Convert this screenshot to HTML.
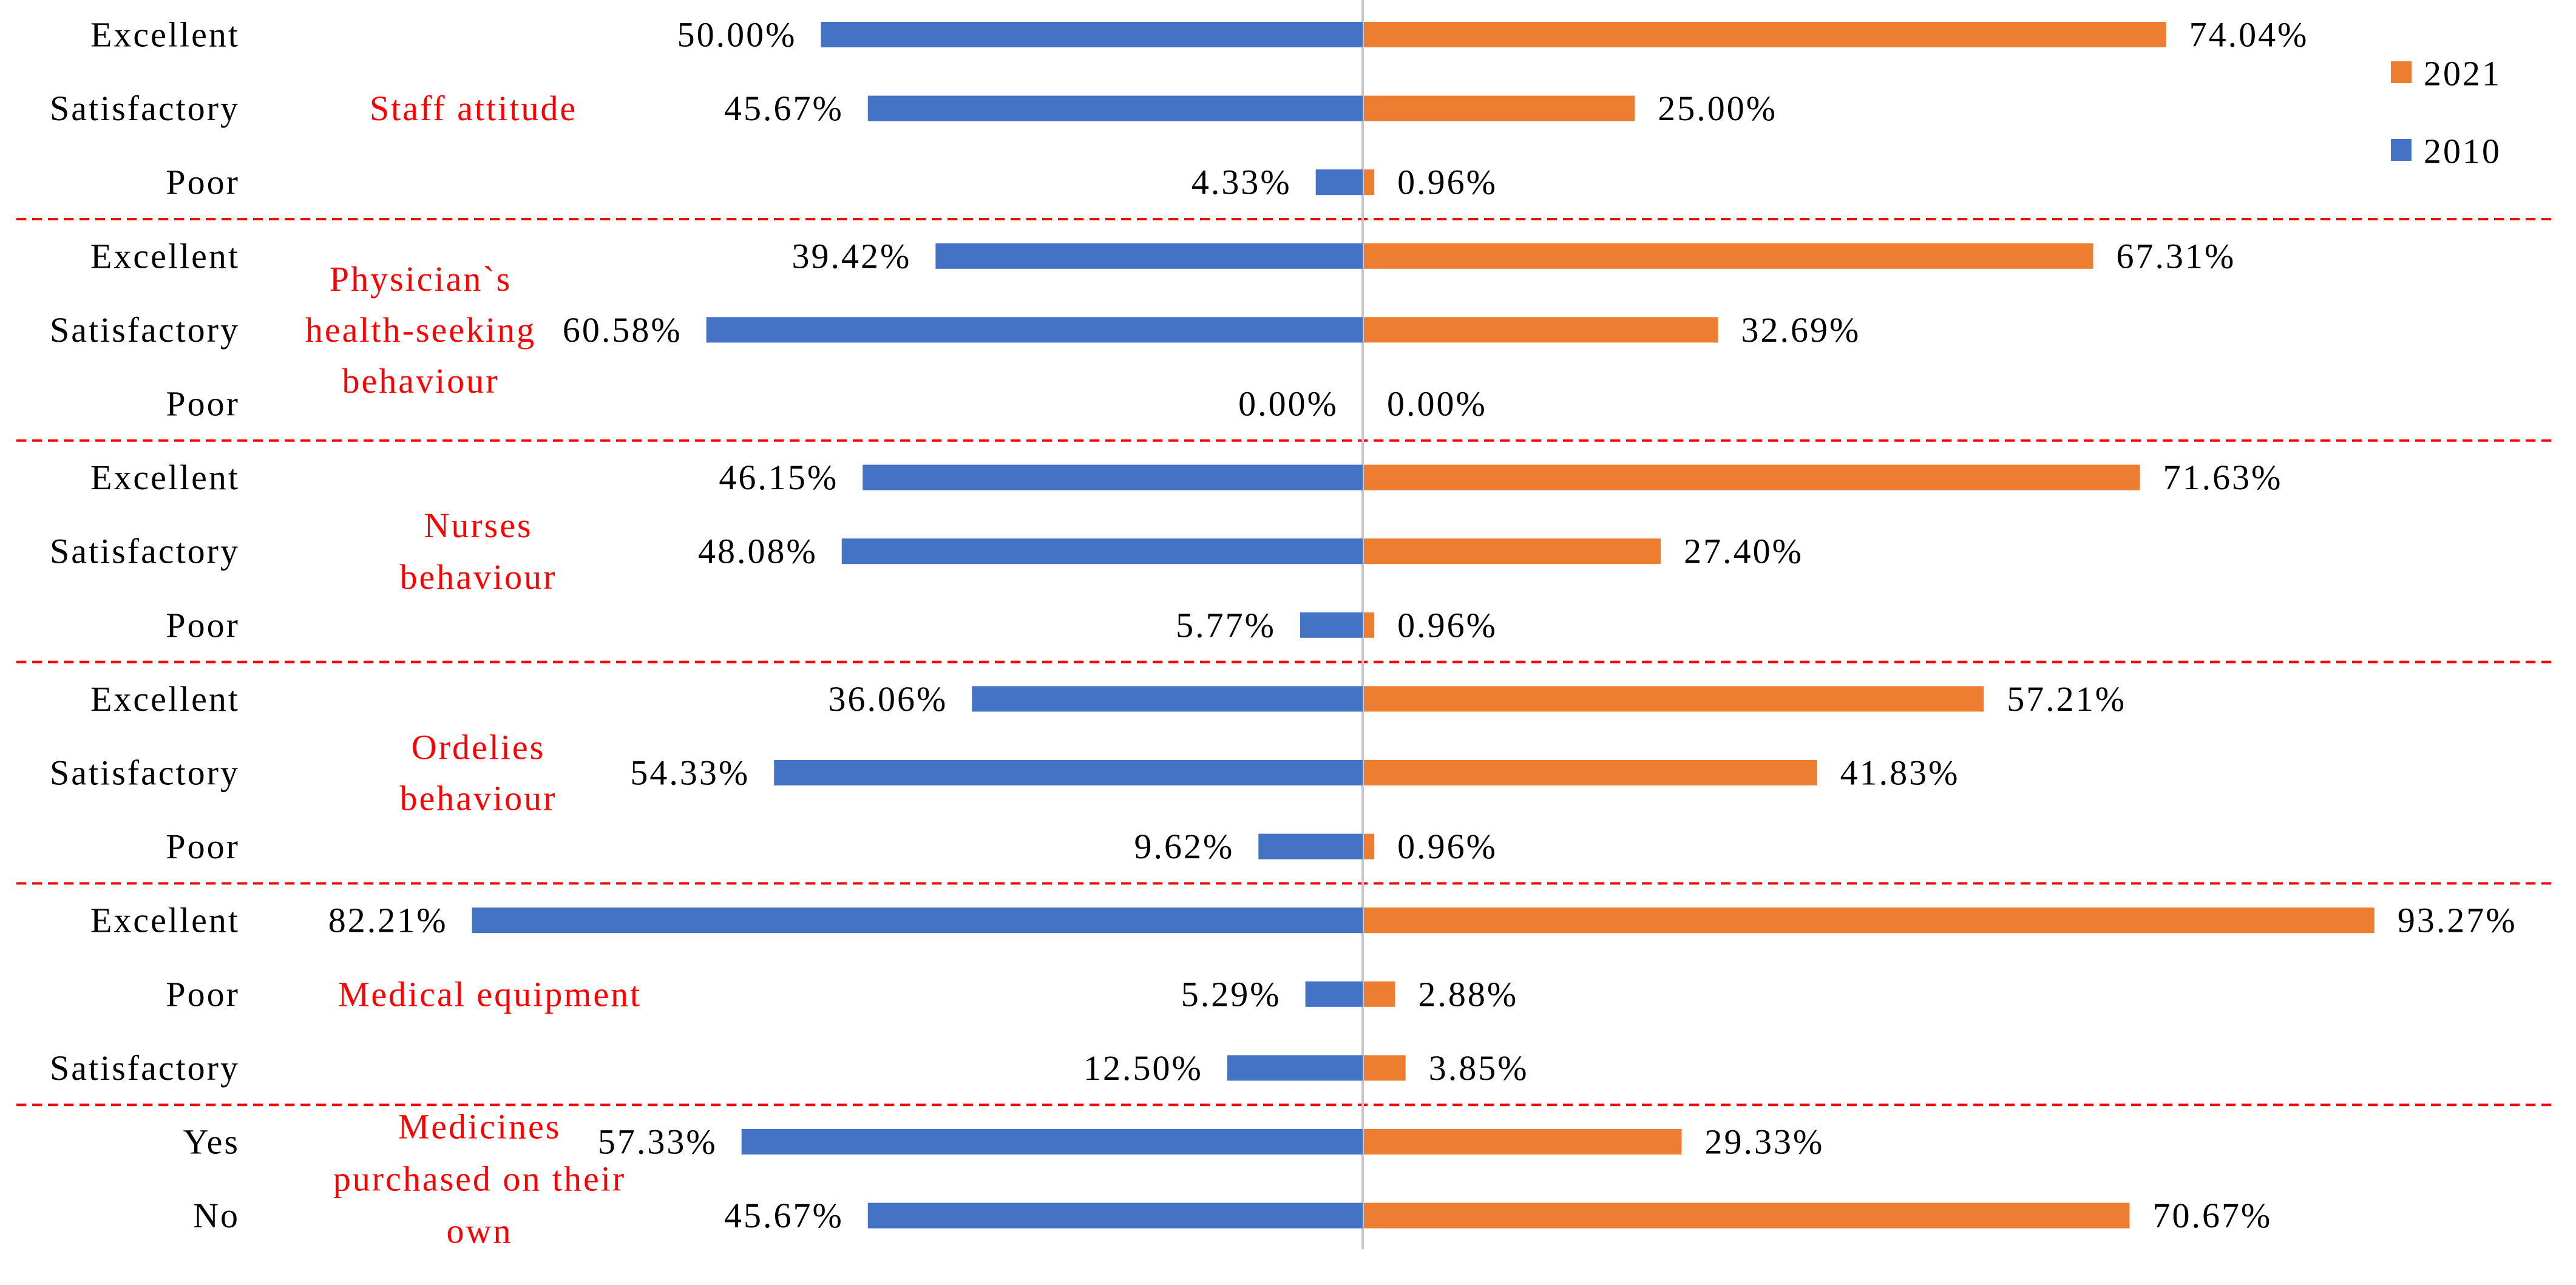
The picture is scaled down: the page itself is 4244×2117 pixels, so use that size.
<!DOCTYPE html>
<html><head><meta charset="utf-8"><style>
html,body{margin:0;padding:0;background:#fff;}
svg{display:block;}
text{font-family:"Liberation Serif",serif;letter-spacing:3px;}
</style></head><body>
<svg id="chart" width="4244" height="2117" viewBox="0 0 4244 2117" xmlns="http://www.w3.org/2000/svg">
<rect width="4244" height="2117" fill="#fff"/>
<g id="seps"></g>
<line x1="2245" y1="0" x2="2245" y2="2058" stroke="#c8c8c8" stroke-width="4"/>
<g id="bars"></g>
<g id="groups"></g>
<g>
<rect x="3939" y="101" width="34" height="36" fill="#ED7D31"/>
<text x="3993" y="121" font-size="58" dominant-baseline="central" fill="#000">2021</text>
<rect x="3939" y="229" width="34" height="36" fill="#4472C4"/>
<text x="3993" y="249" font-size="58" dominant-baseline="central" fill="#000">2010</text>
</g>
</svg>
<script>
const categories = ["Excellent","Satisfactory","Poor","Excellent","Satisfactory","Poor","Excellent","Satisfactory","Poor","Excellent","Satisfactory","Poor","Excellent","Poor","Satisfactory","Yes","No"];
const values2010 = [50.00,45.67,4.33,39.42,60.58,0.00,46.15,48.08,5.77,36.06,54.33,9.62,82.21,5.29,12.50,57.33,45.67];
const values2021 = [74.04,25.00,0.96,67.31,32.69,0.00,71.63,27.40,0.96,57.21,41.83,0.96,93.27,2.88,3.85,29.33,70.67];
const groupNames = [["Staff attitude"],["Physician`s","health-seeking","behaviour"],["Nurses","behaviour"],["Ordelies","behaviour"],["Medical equipment"],["Medicines","purchased on their","own"]];
const groupRows = [[0,2],[3,5],[6,8],[9,11],[12,14],[15,16]];

const NS="http://www.w3.org/2000/svg";
const X0=2245, PX=17.85;
const xs=v=>v*PX;
const yRow=i=>57+121.6*i;
function mk(tag,attrs,parent){const e=document.createElementNS(NS,tag);for(const k in attrs)e.setAttribute(k,attrs[k]);parent.appendChild(e);return e;}
const bars=document.getElementById('bars');
const groups=document.getElementById('groups');
const seps=document.getElementById('seps');
const BH=42, FS=58;
categories.forEach((c,i)=>{
  const y=yRow(i);
  const t=mk('text',{x:395,y:y,'font-size':FS,'text-anchor':'end','dominant-baseline':'central',fill:'#000'},bars);
  t.textContent=c;
  
  
  const w1=xs(values2010[i]);
  const b1=mk('rect',{x:X0-w1,y:y-BH/2,width:w1,height:BH,fill:'#4472C4'},bars);
  
  
  const l1=mk('text',{x:X0-w1-40,y:y,'font-size':FS,'text-anchor':'end','dominant-baseline':'central',fill:'#000'},bars);
  l1.textContent=values2010[i].toFixed(2)+'%';
  
  
  const w2=xs(values2021[i]);
  const b2=mk('rect',{x:X0+2,y:y-BH/2,width:w2,height:BH,fill:'#ED7D31'},bars);
  
  
  const l2=mk('text',{x:X0+w2+40,y:y,'font-size':FS,'text-anchor':'start','dominant-baseline':'central',fill:'#000'},bars);
  l2.textContent=values2021[i].toFixed(2)+'%';
  
  
});
const groupX=[780,693,788,788,807,790];
const groupLH=[0,84,85,84,0,86];
groupNames.forEach((lines,g)=>{
  const [a,b]=groupRows[g];
  const cy=(yRow(a)+yRow(b))/2;
  const n=lines.length, lh=groupLH[g];
  lines.forEach((s,k)=>{
    const t=mk('text',{x:groupX[g],y:cy+(k-(n-1)/2)*lh,'font-size':FS,'text-anchor':'middle','dominant-baseline':'central',fill:'#FF0000'},groups);
    t.textContent=s;
    
    
  });
  if(g<groupNames.length-1){
    const sy=(yRow(b)+yRow(groupRows[g+1][0]))/2;
    const ln=mk('line',{x1:27,y1:sy,x2:4210,y2:sy,stroke:'#FF0000','stroke-width':4,'stroke-dasharray':'16 10'},seps);
    
    
  }
});
</script>
</body></html>
